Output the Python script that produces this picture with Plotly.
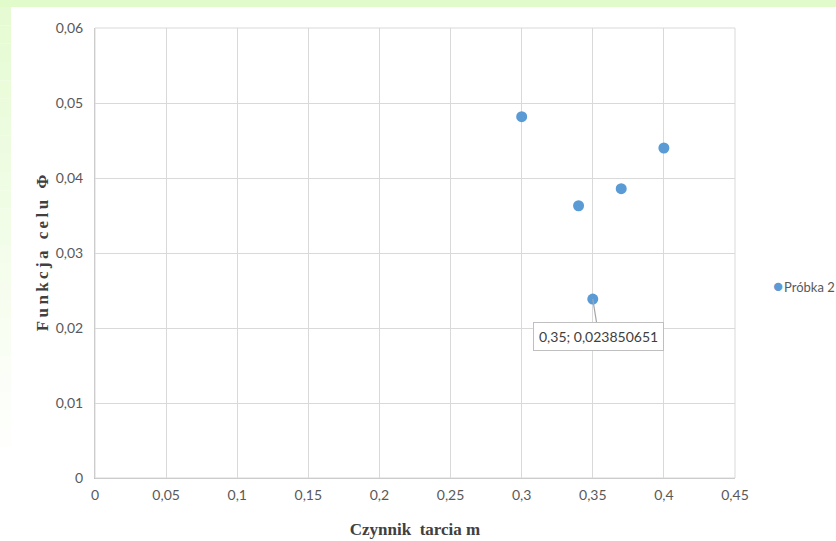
import plotly.graph_objects as go

# Friction factor m vs. objective function value
friction_m = [0.30, 0.34, 0.35, 0.37, 0.40]
objective_phi = [0.04817, 0.03630, 0.023850651, 0.03857, 0.04400]
series_name = "Próbka 2"
series_color = "#5b9bd5"
x_title = "Czynnik  tarcia m"
y_title = "Funkcja celu Φ"

# Highlighted point with its data label
label_idx = 2
label_text = "0,35; 0,023850651"

W, H = 836, 541
ML, MR, MT, MB = 95, 101, 28, 63
PW, PH = W - ML - MR, H - MT - MB


def px_to_paper_x(px):
    return (px - ML) / PW


def px_to_paper_y(py):
    return (H - MB - py) / PH


def spaced(text, sep="\u2009"):
    return sep.join(text)


tick_font = dict(family="Lato, Liberation Sans, sans-serif", size=14, color="#595959")
title_font = dict(family="Liberation Serif, Times New Roman, serif", size=17, color="#404040")

fig = go.Figure()
fig.add_trace(go.Scatter(
    x=friction_m, y=objective_phi, mode="markers", name=series_name,
    marker=dict(color=series_color, size=11, line=dict(width=0)),
    showlegend=False,
))

# Soft green frame along the top and left edges of the page
shapes = [dict(type="rect", xref="paper", yref="paper", layer="below",
               x0=px_to_paper_x(0), x1=px_to_paper_x(W), y0=px_to_paper_y(7), y1=px_to_paper_y(0),
               fillcolor="#e2fbcb", line=dict(width=0))]
steps = 24
for i in range(steps):
    y_top = 7 + i * (440 / steps)
    y_bot = 7 + (i + 1) * (440 / steps)
    op = max(0.0, 1.0 - i / steps)
    shapes.append(dict(type="rect", xref="paper", yref="paper", layer="below",
                       x0=px_to_paper_x(0), x1=px_to_paper_x(11),
                       y0=px_to_paper_y(y_bot), y1=px_to_paper_y(y_top),
                       fillcolor="#e6fbd3", opacity=op, line=dict(width=0)))
# Plot-area border
shapes.append(dict(type="rect", xref="paper", yref="paper", x0=0, x1=1, y0=0, y1=1,
                   line=dict(color="#d9d9d9", width=1)))

annotations = [
    # data label with callout for the highlighted point
    dict(x=friction_m[label_idx], y=objective_phi[label_idx], xref="x", yref="y",
         text=label_text, showarrow=True, arrowhead=0, arrowwidth=1.2, arrowcolor="#a6a6a6",
         ax=6, ay=37, bordercolor="#bfbfbf", borderwidth=1, borderpad=5, bgcolor="white",
         font=dict(family=tick_font["family"], size=14, color="#404040")),
    # compact legend entry to the right of the plot
    dict(x=px_to_paper_x(771), y=px_to_paper_y(286), xref="paper", yref="paper",
         xanchor="left", yanchor="middle", showarrow=False,
         text=(f'<span style="color:{series_color};font-size:17px">●</span>'
               f'<span style="font-size:3px"> </span>{series_name}'),
         font=dict(family=tick_font["family"], size=13, color="#595959")),
]

fig.update_layout(
    width=W, height=H,
    margin=dict(l=ML, r=MR, t=MT, b=MB, autoexpand=False),
    paper_bgcolor="white", plot_bgcolor="white",
    separators=", ",
    showlegend=False,
    shapes=shapes,
    annotations=annotations,
    xaxis=dict(range=[0, 0.45], dtick=0.05, tick0=0, showgrid=True, gridcolor="#d9d9d9",
               gridwidth=1, zeroline=False, showline=True, linecolor="#bfbfbf",
               ticks="", tickfont=tick_font, ticklabelstandoff=4,
               title=dict(text="<b>" + x_title + "</b>", font=title_font, standoff=21)),
    yaxis=dict(range=[0, 0.06], dtick=0.01, tick0=0, showgrid=True, gridcolor="#d9d9d9",
               gridwidth=1, zeroline=False, showline=True, linecolor="#bfbfbf",
               ticks="", tickfont=tick_font, ticklabelstandoff=8,
               title=dict(text="<b>" + spaced(y_title) + "</b>", font=title_font, standoff=2)),
)

fig.write_html("out.html")
